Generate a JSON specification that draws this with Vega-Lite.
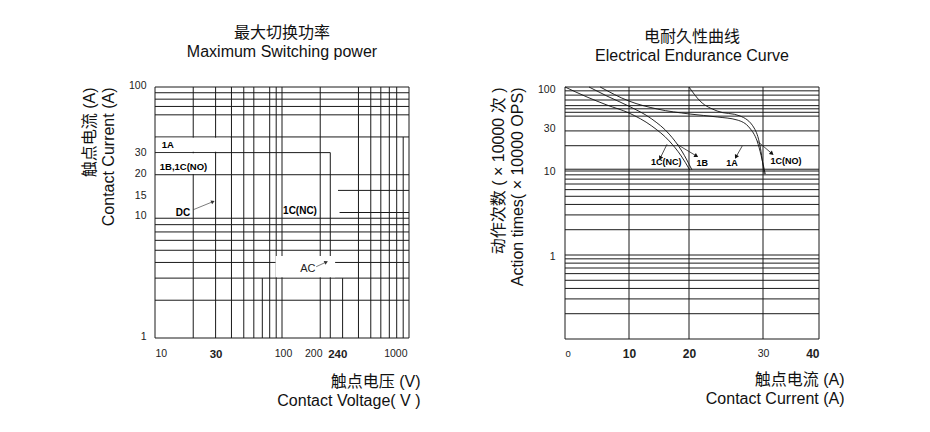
{
  "$schema": "https://vega.github.io/schema/vega-lite/v6.json",
  "background": "white",
  "padding": {"left": 81, "top": 25, "right": 0, "bottom": 0},
  "spacing": 70,
  "config": {
    "font": "Liberation Sans, Noto Sans CJK SC, sans-serif",
    "view": {"stroke": null},
    "title": {"fontSize": 16, "fontWeight": "normal", "color": "#111", "lineHeight": 19, "offset": 20, "anchor": "middle"},
    "axis": {"domain": false, "ticks": false, "grid": false, "labelOverlap": false, "labelColor": "#222", "labelFontSize": 10.5, "titleFontSize": 16, "titleFontWeight": "normal", "titleColor": "#111", "titleLineHeight": 19}
  },
  "datasets": {
    "hL": [
      {"y": 100, "x": 10, "x2": 1000}, {"y": 90, "x": 10, "x2": 1000}, {"y": 80, "x": 10, "x2": 1000},
      {"y": 70, "x": 10, "x2": 1000}, {"y": 60, "x": 10, "x2": 1000}, {"y": 40, "x": 10, "x2": 1000},
      {"y": 30, "x": 10, "x2": 240}, {"y": 20, "x": 10, "x2": 1000}, {"y": 15, "x": 276, "x2": 1000},
      {"y": 10, "x": 284, "x2": 1000}, {"y": 9, "x": 10, "x2": 1000}, {"y": 8, "x": 10, "x2": 1000},
      {"y": 7, "x": 10, "x2": 1000}, {"y": 6, "x": 10, "x2": 1000}, {"y": 5, "x": 10, "x2": 1000},
      {"y": 4, "x": 10, "x2": 1000}, {"y": 3, "x": 10, "x2": 1000}, {"y": 2, "x": 10, "x2": 1000},
      {"y": 1, "x": 10, "x2": 1000}
    ],
    "vL": [
      {"x": 10, "y": 1, "y2": 100}, {"x": 20, "y": 1, "y2": 100}, {"x": 30, "y": 1, "y2": 100},
      {"x": 40, "y": 1, "y2": 100}, {"x": 50, "y": 1, "y2": 100}, {"x": 60, "y": 1, "y2": 100},
      {"x": 70, "y": 1, "y2": 3}, {"x": 80, "y": 1, "y2": 100}, {"x": 90, "y": 1, "y2": 100},
      {"x": 100, "y": 1, "y2": 100}, {"x": 200, "y": 1, "y2": 100}, {"x": 240, "y": 1, "y2": 30},
      {"x": 300, "y": 1, "y2": 3}, {"x": 400, "y": 1, "y2": 100}, {"x": 500, "y": 1, "y2": 100},
      {"x": 600, "y": 1, "y2": 100}, {"x": 700, "y": 1, "y2": 100}, {"x": 800, "y": 1, "y2": 100},
      {"x": 900, "y": 1, "y2": 40}, {"x": 1000, "y": 1, "y2": 100}
    ],
    "boxL": [
      {"x": 10.2, "x2": 39, "y": 30.5, "y2": 39.5},
      {"x": 10.2, "x2": 29.3, "y": 20.3, "y2": 29.6},
      {"x": 89, "x2": 262, "y": 3.05, "y2": 4.5}
    ],
    "arrL": [
      {"id": "dc", "x": 19.9, "y": 10.5, "x2": 28.6, "y2": 12.2},
      {"id": "ac", "x": 186, "y": 3.7, "x2": 223, "y2": 4.03}
    ],
    "labL": [
      {"label": "1A", "x": 11.3, "y": 34.5},
      {"label": "1B,1C(NO)", "x": 10.9, "y": 22.9}
    ],
    "labLc": [
      {"label": "DC", "x": 16.6, "y": 10},
      {"label": "1C(NC)", "x": 138.6, "y": 10.2}
    ],
    "labAC": [
      {"label": "AC", "x": 160, "y": 3.56}
    ],
    "hR": [
      {"y": 100, "x": 0, "x2": 40}, {"y": 90, "x": 0, "x2": 40}, {"y": 80, "x": 0, "x2": 40},
      {"y": 70, "x": 0, "x2": 40}, {"y": 60, "x": 0, "x2": 40}, {"y": 55, "x": 0, "x2": 40},
      {"y": 50, "x": 0, "x2": 40}, {"y": 45, "x": 0, "x2": 40}, {"y": 30, "x": 0, "x2": 40},
      {"y": 20, "x": 0, "x2": 40}, {"y": 10.5, "x": 0, "x2": 40}, {"y": 10, "x": 0, "x2": 40},
      {"y": 9, "x": 0, "x2": 40}, {"y": 8, "x": 0, "x2": 40}, {"y": 7, "x": 0, "x2": 40},
      {"y": 6, "x": 0, "x2": 40}, {"y": 5, "x": 0, "x2": 40}, {"y": 4, "x": 0, "x2": 40},
      {"y": 3, "x": 0, "x2": 40}, {"y": 2, "x": 0, "x2": 40}, {"y": 1, "x": 0, "x2": 40},
      {"y": 0.9, "x": 0, "x2": 40}, {"y": 0.8, "x": 0, "x2": 40}, {"y": 0.7, "x": 0, "x2": 40},
      {"y": 0.6, "x": 0, "x2": 40}, {"y": 0.5, "x": 0, "x2": 40}, {"y": 0.4, "x": 0, "x2": 40},
      {"y": 0.3, "x": 0, "x2": 40}, {"y": 0.2, "x": 0, "x2": 40}, {"y": 0.1, "x": 0, "x2": 40}
    ],
    "vR": [
      {"x": 0, "y": 0.1, "y2": 100}, {"x": 10, "y": 0.1, "y2": 100}, {"x": 20, "y": 0.1, "y2": 100},
      {"x": 30, "y": 0.1, "y2": 100}, {"x": 40, "y": 0.1, "y2": 100}
    ],
    "curves": [
      {"series": "1C(NC)", "x": 0, "y": 100}, {"series": "1C(NC)", "x": 3.44, "y": 76},
      {"series": "1C(NC)", "x": 6.56, "y": 61}, {"series": "1C(NC)", "x": 10, "y": 49},
      {"series": "1C(NC)", "x": 13.8, "y": 34.3}, {"series": "1C(NC)", "x": 16.7, "y": 22.8},
      {"series": "1C(NC)", "x": 18.7, "y": 15.1}, {"series": "1C(NC)", "x": 20.1, "y": 10.3},
      {"series": "1B", "x": 3.75, "y": 100}, {"series": "1B", "x": 6.56, "y": 78},
      {"series": "1B", "x": 10, "y": 59}, {"series": "1B", "x": 13.8, "y": 41.6},
      {"series": "1B", "x": 16.7, "y": 27.5}, {"series": "1B", "x": 18.8, "y": 17.3},
      {"series": "1B", "x": 20.4, "y": 10.3},
      {"series": "1A", "x": 5.5, "y": 100}, {"series": "1A", "x": 10, "y": 68},
      {"series": "1A", "x": 14.7, "y": 54.7}, {"series": "1A", "x": 20.1, "y": 47.7},
      {"series": "1A", "x": 23.8, "y": 44}, {"series": "1A", "x": 26.5, "y": 40.5},
      {"series": "1A", "x": 28.2, "y": 32.5}, {"series": "1A", "x": 29.2, "y": 22.8},
      {"series": "1A", "x": 30.4, "y": 9.2},
      {"series": "1C(NO)", "x": 20, "y": 100}, {"series": "1C(NO)", "x": 21.5, "y": 68},
      {"series": "1C(NO)", "x": 23.8, "y": 51.8}, {"series": "1C(NO)", "x": 26.9, "y": 45.2},
      {"series": "1C(NO)", "x": 28.8, "y": 32.5}, {"series": "1C(NO)", "x": 29.6, "y": 19.9},
      {"series": "1C(NO)", "x": 30.2, "y": 9.2}
    ],
    "arrR": [
      {"id": "nc", "x": 16.33, "y": 20.8, "x2": 15.2, "y2": 14.2},
      {"id": "b", "x": 18, "y": 20.8, "x2": 21, "y2": 15.1},
      {"id": "a", "x": 27.2, "y": 19.9, "x2": 26.35, "y2": 14.7},
      {"id": "no", "x": 29.2, "y": 22.8, "x2": 31.6, "y2": 16.1}
    ],
    "labR": [
      {"label": "1C(NC)", "x": 16.2, "y": 12.8},
      {"label": "1B", "x": 21.8, "y": 12.4},
      {"label": "1A", "x": 25.8, "y": 12.4},
      {"label": "1C(NO)", "x": 34.1, "y": 13}
    ]
  },
  "hconcat": [
    {
      "width": 254,
      "height": 251,
      "title": {"text": ["最大切换功率", "Maximum Switching power"]},
      "encoding": {
        "x": {
          "field": "x", "type": "quantitative",
          "scale": {"type": "log", "domain": [10, 1000], "nice": false},
          "axis": {
            "values": [10, 30, 100, 200, 240, 1000],
            "labelExpr": "'' + datum.value",
            "labelPadding": 10,
            "labelFontWeight": {"condition": {"test": "datum.value == 30 || datum.value == 240", "value": "bold"}, "value": "normal"},
            "labelFontSize": {"condition": {"test": "datum.value == 30 || datum.value == 240", "value": 11.5}, "value": 10.5},
            "labelOffset": {"condition": [{"test": "datum.value == 100", "value": 1}, {"test": "datum.value == 200", "value": -7}, {"test": "datum.value == 240", "value": 7}, {"test": "datum.value == 1000", "value": -2}], "value": 0},
            "title": ["触点电压 (V)", "Contact Voltage( V )"],
            "titleAlign": "right",
            "titleX": 265,
            "titlePadding": 14
          }
        },
        "y": {
          "field": "y", "type": "quantitative",
          "scale": {"type": "log", "domain": [1, 100], "nice": false},
          "axis": {
            "values": [1, 10, 15, 20, 30, 100],
            "labelExpr": "'' + datum.value",
            "labelPadding": 9,
            "labelOffset": {"condition": [{"test": "datum.value == 100", "value": -2}, {"test": "datum.value == 15", "value": 5}, {"test": "datum.value == 10", "value": 3}, {"test": "datum.value == 20", "value": -1}, {"test": "datum.value == 1", "value": -2}], "value": 0},
            "title": ["触点电流 (A)", "Contact Current (A)"],
            "titleAnchor": "end",
            "titlePadding": 12
          }
        }
      },
      "layer": [
        {"data": {"name": "hL"}, "mark": {"type": "rule", "color": "#1a1a1a", "strokeWidth": 1}, "encoding": {"x2": {"field": "x2"}}},
        {"data": {"name": "vL"}, "mark": {"type": "rule", "color": "#1a1a1a", "strokeWidth": 1}, "encoding": {"y2": {"field": "y2"}}},
        {"data": {"name": "boxL"}, "mark": {"type": "rect", "fill": "white"}, "encoding": {"x2": {"field": "x2"}, "y2": {"field": "y2"}}},
        {"data": {"name": "arrL"}, "mark": {"type": "rule", "color": "#444", "strokeWidth": 0.7}, "encoding": {"x2": {"field": "x2"}, "y2": {"field": "y2"}}},
        {"data": {"name": "arrL"}, "transform": [{"filter": "datum.id == 'dc'"}], "mark": {"type": "point", "shape": "triangle-up", "filled": true, "size": 18, "angle": 67, "color": "#333", "opacity": 1}, "encoding": {"x": {"field": "x2", "type": "quantitative"}, "y": {"field": "y2", "type": "quantitative"}}},
        {"data": {"name": "arrL"}, "transform": [{"filter": "datum.id == 'ac'"}], "mark": {"type": "point", "shape": "triangle-up", "filled": true, "size": 18, "angle": 65, "color": "#333", "opacity": 1}, "encoding": {"x": {"field": "x2", "type": "quantitative"}, "y": {"field": "y2", "type": "quantitative"}}},
        {"data": {"name": "labL"}, "mark": {"type": "text", "fontWeight": "bold", "fontSize": 9.5, "align": "left", "color": "#000"}, "encoding": {"text": {"field": "label"}}},
        {"data": {"name": "labLc"}, "mark": {"type": "text", "fontWeight": "bold", "fontSize": 10, "align": "center", "color": "#000"}, "encoding": {"text": {"field": "label"}}},
        {"data": {"name": "labAC"}, "mark": {"type": "text", "fontSize": 11, "align": "center", "color": "#222"}, "encoding": {"text": {"field": "label"}}}
      ]
    },
    {
      "width": 254,
      "height": 252,
      "title": {"text": ["电耐久性曲线", "Electrical Endurance Curve"]},
      "encoding": {
        "x": {
          "field": "x", "type": "quantitative",
          "scale": {"domain": [0, 10, 20, 30, 40], "range": [0, 64, 124, 198, 254], "nice": false, "zero": false},
          "axis": {
            "values": [0, 10, 20, 30, 40],
            "labelExpr": "'' + datum.value",
            "labelPadding": 9,
            "labelFontWeight": {"condition": {"test": "datum.value == 10 || datum.value == 20 || datum.value == 40", "value": "bold"}, "value": "normal"},
            "labelFontSize": {"condition": [{"test": "datum.value == 10 || datum.value == 20 || datum.value == 40", "value": 12}, {"test": "datum.value == 0", "value": 9.5}], "value": 10.5},
            "title": ["触点电流 (A)", "Contact Current (A)"],
            "titleAlign": "right",
            "titleX": 279,
            "titlePadding": 12
          }
        },
        "y": {
          "field": "y", "type": "quantitative",
          "scale": {"type": "log", "domain": [0.1, 100], "nice": false},
          "axis": {
            "values": [1, 10, 30, 100],
            "labelExpr": "'' + datum.value",
            "labelPadding": 10,
            "labelOffset": {"condition": [{"test": "datum.value == 100", "value": 2}, {"test": "datum.value == 30", "value": -2}, {"test": "datum.value == 1", "value": 1}], "value": 0},
            "title": ["动作次数 ( × 10000 次 )", "Action times( × 10000 OPS)"],
            "titleAnchor": "end",
            "titlePadding": 12
          }
        }
      },
      "layer": [
        {"data": {"name": "hR"}, "mark": {"type": "rule", "color": "#1a1a1a", "strokeWidth": 1}, "encoding": {"x2": {"field": "x2"}}},
        {"data": {"name": "vR"}, "mark": {"type": "rule", "color": "#1a1a1a", "strokeWidth": 1}, "encoding": {"y2": {"field": "y2"}}},
        {"data": {"name": "curves"}, "mark": {"type": "line", "color": "#111", "strokeWidth": 0.9, "interpolate": "monotone"}, "encoding": {"detail": {"field": "series"}}},
        {"data": {"name": "arrR"}, "mark": {"type": "rule", "color": "#222", "strokeWidth": 0.8}, "encoding": {"x2": {"field": "x2"}, "y2": {"field": "y2"}}},
        {"data": {"name": "arrR"}, "transform": [{"filter": "datum.id == 'nc'"}], "mark": {"type": "point", "shape": "triangle-up", "filled": true, "size": 22, "angle": 206, "color": "#111", "opacity": 1}, "encoding": {"x": {"field": "x2", "type": "quantitative"}, "y": {"field": "y2", "type": "quantitative"}}},
        {"data": {"name": "arrR"}, "transform": [{"filter": "datum.id == 'b'"}], "mark": {"type": "point", "shape": "triangle-up", "filled": true, "size": 22, "angle": 121, "color": "#111", "opacity": 1}, "encoding": {"x": {"field": "x2", "type": "quantitative"}, "y": {"field": "y2", "type": "quantitative"}}},
        {"data": {"name": "arrR"}, "transform": [{"filter": "datum.id == 'a'"}], "mark": {"type": "point", "shape": "triangle-up", "filled": true, "size": 22, "angle": 209, "color": "#111", "opacity": 1}, "encoding": {"x": {"field": "x2", "type": "quantitative"}, "y": {"field": "y2", "type": "quantitative"}}},
        {"data": {"name": "arrR"}, "transform": [{"filter": "datum.id == 'no'"}], "mark": {"type": "point", "shape": "triangle-up", "filled": true, "size": 22, "angle": 130, "color": "#111", "opacity": 1}, "encoding": {"x": {"field": "x2", "type": "quantitative"}, "y": {"field": "y2", "type": "quantitative"}}},
        {"data": {"name": "labR"}, "mark": {"type": "text", "fontWeight": "bold", "fontSize": 9, "align": "center", "color": "#000"}, "encoding": {"text": {"field": "label"}}}
      ]
    }
  ]
}
